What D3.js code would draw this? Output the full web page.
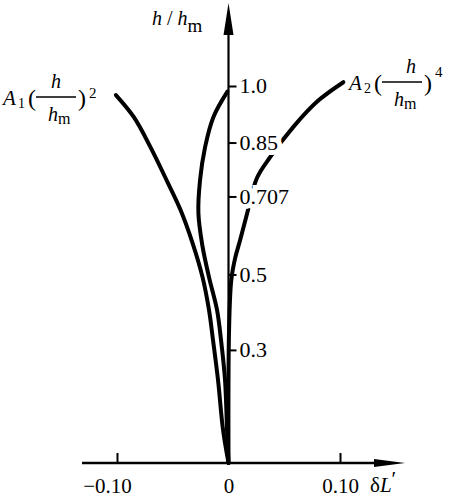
<!DOCTYPE html>
<html>
<head>
<meta charset="utf-8">
<script src="https://cdn.jsdelivr.net/npm/d3@7"></script>
<style>
  body { margin: 0; background: #fff; }
  svg { display: block; font-family: "Liberation Serif", serif; }
</style>
</head>
<body>
<div id="chart"></div>
<script>
// curve A1 (h/hm)^2, middle curve, curve A2 (h/hm)^4 : dL' against h/hm
const a1Dl = [-0.101, -0.085, -0.070, -0.0547, -0.043, -0.0323, -0.0233, -0.0175, -0.0139, -0.0094, -0.0049, 0];
const a1H  = [0.976, 0.918, 0.838, 0.745, 0.671, 0.584, 0.493, 0.406, 0.326, 0.220, 0.088, 0];

const midDl = [-0.001, -0.0135, -0.021, -0.0255, -0.027, -0.0235, -0.0175, -0.0103, -0.0067, -0.0031, -0.0013, 0];
const midH  = [0.985, 0.918, 0.838, 0.751, 0.663, 0.578, 0.493, 0.406, 0.326, 0.220, 0.088, 0];

const a2Dl = [0.103, 0.080, 0.058, 0.0375, 0.0255, 0.0175, 0.0105, 0.006, 0.0025, 0.0005, 0];
const a2H  = [1.01, 0.960, 0.891, 0.812, 0.756, 0.671, 0.592, 0.544, 0.485, 0.353, 0];

const xTicks = [-0.10, 0, 0.10];
const xTickLabels = ["\u22120.10", "0", "0.10"];
const yTicks = [1.0, 0.85, 0.707, 0.5, 0.3];
const yTickLabels = ["1.0", "0.85", "0.707", "0.5", "0.3"];

const width = 464, height = 502;

const svg = d3.select("#chart")
    .append("svg")
    .attr("width", width)
    .attr("height", height);

const x = d3.scaleLinear()
    .domain([-0.10, 0.10])
    .range([117, 340]);

const y = d3.scaleLinear()
    .domain([0, 1])
    .range([463, 86]);

const line = d3.line()
    .x(d => x(d[0]))
    .y(d => y(d[1]))
    .curve(d3.curveCatmullRom);

const series = [
    d3.zip(a1Dl, a1H),
    d3.zip(midDl, midH),
    d3.zip(a2Dl, a2H)
];

svg.selectAll(".curve")
    .data(series)
    .join("path")
    .attr("class", "curve")
    .attr("d", line)
    .attr("fill", "none")
    .attr("stroke", "#000")
    .attr("stroke-width", 4)
    .attr("stroke-linecap", "round");

// axes lines with arrows
svg.append("line")
    .attr("x1", x(0)).attr("x2", x(0))
    .attr("y1", y(0)).attr("y2", 30)
    .attr("stroke", "#000").attr("stroke-width", 2.2);
svg.append("path")
    .attr("d", `M${x(0)},3 L${x(0) - 5},35 L${x(0) + 5},35 Z`)
    .attr("fill", "#000");

svg.append("line")
    .attr("x1", 82).attr("x2", 376)
    .attr("y1", y(0)).attr("y2", y(0))
    .attr("stroke", "#000").attr("stroke-width", 2.6);
svg.append("path")
    .attr("d", `M405,${y(0)} L374,${y(0) - 4} L374,${y(0) + 4} Z`)
    .attr("fill", "#000");

// y axis ticks, labels to the right
const yAxis = svg.append("g")
    .attr("transform", `translate(${x(0)},0)`)
    .call(d3.axisRight(y)
        .tickValues(yTicks)
        .tickFormat((d, i) => yTickLabels[i])
        .tickSize(8)
        .tickPadding(3));
yAxis.select(".domain").remove();
yAxis.selectAll("text")
    .attr("font-size", 22)
    .attr("font-family", "Liberation Serif")
    .attr("fill", "#000")
    .attr("dy", "0.3em")
    .style("paint-order", "stroke")
    .attr("stroke", "#fff")
    .attr("stroke-width", 10);
yAxis.selectAll(".tick line").attr("stroke", "#000").attr("stroke-width", 2).raise();

// x axis ticks, labels below
const xAxis = svg.append("g")
    .attr("transform", `translate(0,${y(0)})`)
    .call(d3.axisBottom(x)
        .tickValues(xTicks)
        .tickFormat((d, i) => xTickLabels[i])
        .tickSize(-10)
        .tickPadding(15));
xAxis.select(".domain").remove();
xAxis.selectAll(".tick line").attr("stroke", "#000").attr("stroke-width", 2);
xAxis.selectAll("text")
    .attr("font-size", 21)
    .attr("font-family", "Liberation Serif")
    .attr("fill", "#000")
    .attr("dx", d => d < 0 ? -10 : 0);

// axis titles
const yTitle = svg.append("text").attr("x", 152).attr("y", 25).attr("font-size", 20);
yTitle.append("tspan").attr("font-style", "italic").text("h");
yTitle.append("tspan").attr("dx", 5).text("/");
yTitle.append("tspan").attr("dx", 5).attr("font-style", "italic").text("h");
yTitle.append("tspan").attr("dy", 7).attr("font-size", 19).text("m");

const xTitle = svg.append("text").attr("x", 370).attr("y", 492).attr("font-size", 21);
xTitle.append("tspan").text("\u03b4");
xTitle.append("tspan").attr("font-style", "italic").text("L");
xTitle.append("tspan").attr("dy", -6).text("\u2032");

// curve labels: A (h/hm)^n
function fracLabel(ox, oy, sub, pow, numDx, powDy) {
    const g = svg.append("g").attr("transform", `translate(${ox},${oy})`);
    g.append("text").attr("x", 0).attr("y", 0).attr("font-size", 21)
        .attr("font-style", "italic").text("A");
    g.append("text").attr("x", 15).attr("y", 3).attr("font-size", 14).text(sub);
    g.append("text").attr("x", 25).attr("y", 1).attr("font-size", 24).text("(");
    g.append("line").attr("x1", 33).attr("x2", 73).attr("y1", -8).attr("y2", -8)
        .attr("stroke", "#000").attr("stroke-width", 1.6);
    g.append("text").attr("x", 33 + numDx).attr("y", -17).attr("font-size", 20)
        .attr("font-style", "italic").text("h");
    const den = g.append("text").attr("x", 45).attr("y", 16).attr("font-size", 20);
    den.append("tspan").attr("font-style", "italic").text("h");
    den.append("tspan").attr("dy", 3).attr("font-size", 16).text("m");
    g.append("text").attr("x", 75).attr("y", 1).attr("font-size", 24).text(")");
    g.append("text").attr("x", 86).attr("y", powDy).attr("font-size", 15).text(pow);
}
fracLabel(3, 105, "1", "2", 15, -7);
fracLabel(349, 90, "2", "4", 24, -13);
</script>
</body>
</html>
